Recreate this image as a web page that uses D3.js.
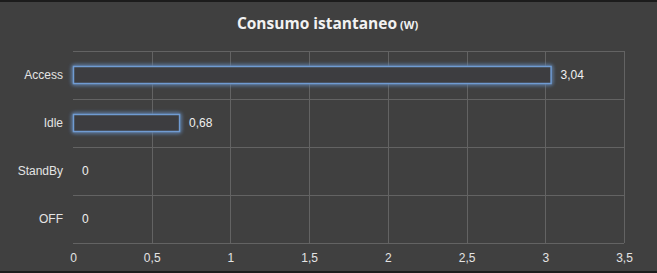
<!DOCTYPE html>
<html>
<head>
<meta charset="utf-8">
<script src="https://cdn.jsdelivr.net/npm/d3@7"></script>
<style>
  html, body { margin: 0; padding: 0; background: #404040; }
  svg { display: block; }
</style>
</head>
<body>
<div id="chart"></div>
<script>
// data
const categories = ["Access", "Idle", "StandBy", "OFF"];
const values = [3.04, 0.68, 0, 0];
const xTicks = [0, 0.5, 1, 1.5, 2, 2.5, 3, 3.5];
const titleMain = "Consumo istantaneo";
const titleUnit = "(W)";

const width = 657, height = 273;
const margin = {top: 51, right: 33, bottom: 30, left: 73};
const innerW = width - margin.left - margin.right;
const innerH = height - margin.top - margin.bottom;

const itFormat = d3.formatLocale({decimal: ",", thousands: ".", grouping: [3], currency: ["€", ""]});
const fmt = v => itFormat.format("~g")(v);
const labelFont = "'Liberation Sans', Arial, sans-serif";

const svg = d3.select("#chart").append("svg")
    .attr("width", width)
    .attr("height", height);

// glow filter for bars
const defs = svg.append("defs");
const glow = defs.append("filter").attr("id", "glow")
    .attr("x", "-10%").attr("y", "-80%").attr("width", "120%").attr("height", "260%");
glow.append("feGaussianBlur").attr("in", "SourceGraphic").attr("stdDeviation", 2).attr("result", "blur");
const merge = glow.append("feMerge");
merge.append("feMergeNode").attr("in", "blur");
merge.append("feMergeNode").attr("in", "blur");
merge.append("feMergeNode").attr("in", "SourceGraphic");

// background + borders
svg.append("rect").attr("width", width).attr("height", height).attr("fill", "#404040");
svg.append("rect").attr("x", 0).attr("y", 0).attr("width", width).attr("height", 2).attr("fill", "#1c1c1c");
svg.append("rect").attr("x", 0).attr("y", height - 2).attr("width", width).attr("height", 2).attr("fill", "#1c1c1c");

// title
const title = svg.append("text")
    .attr("x", width / 2 - 1)
    .attr("y", 29)
    .attr("text-anchor", "middle")
    .attr("fill", "#f2f2f2")
    .attr("font-family", "'Open Sans', sans-serif");
title.append("tspan")
    .attr("font-size", "15.5px")
    .attr("font-weight", "bold")
    .text(titleMain);
title.append("tspan")
    .attr("font-size", "11px")
    .attr("font-weight", "bold")
    .attr("dx", 3)
    .text(titleUnit);

const g = svg.append("g")
    .attr("transform", `translate(${margin.left},${margin.top})`);

const xScale = d3.scaleLinear().domain([0, 3.5]).range([0, innerW]);
const yScale = d3.scaleBand().domain(categories).range([0, innerH]).paddingInner(0.64).paddingOuter(0.32);
const bandStep = yScale.step();

// grid
const gridColor = "#636363";
g.selectAll(".vGrid")
    .data(xTicks.filter(t => t > 0))
    .join("line")
    .attr("class", "vGrid")
    .attr("x1", d => Math.round(xScale(d)) + 0.5)
    .attr("x2", d => Math.round(xScale(d)) + 0.5)
    .attr("y1", 0)
    .attr("y2", innerH)
    .attr("stroke", gridColor);

const hLines = d3.range(categories.length + 1).map(i => i * bandStep);
g.selectAll(".hGrid")
    .data(hLines)
    .join("line")
    .attr("class", "hGrid")
    .attr("x1", 0)
    .attr("x2", innerW)
    .attr("y1", d => Math.round(d) + 0.5)
    .attr("y2", d => Math.round(d) + 0.5)
    .attr("stroke", gridColor);

// x axis
const xAxis = g.append("g")
    .attr("transform", `translate(0,${innerH})`)
    .call(d3.axisBottom(xScale).tickValues(xTicks).tickFormat(fmt).tickSize(0).tickPadding(10));
xAxis.select(".domain").remove();
xAxis.selectAll("text")
    .attr("fill", "#e4e4e4")
    .attr("font-family", labelFont)
    .attr("font-size", "12px");

// y axis
const yAxis = g.append("g")
    .call(d3.axisLeft(yScale).tickSize(0).tickPadding(10));
yAxis.select(".domain").remove();
yAxis.selectAll("text")
    .attr("fill", "#e4e4e4")
    .attr("font-family", labelFont)
    .attr("font-size", "12px");

// bars
g.selectAll(".bar")
    .data(values.map((v, i) => ({cat: categories[i], value: v})).filter(d => d.value > 0))
    .join("rect")
    .attr("class", "bar")
    .attr("x", 0.5)
    .attr("y", d => Math.round(yScale(d.cat)) + 0.5)
    .attr("width", d => xScale(d.value) - 1)
    .attr("height", Math.round(yScale.bandwidth()))
    .attr("fill", "#3d3d3f")
    .attr("stroke", "#6f9bd2")
    .attr("stroke-width", 1.5)
    .attr("filter", "url(#glow)");

// value labels
g.selectAll(".valLabel")
    .data(values.map((v, i) => ({cat: categories[i], value: v})))
    .join("text")
    .attr("class", "valLabel")
    .attr("x", d => xScale(d.value) + 9)
    .attr("y", d => yScale(d.cat) + yScale.bandwidth() / 2)
    .attr("dy", "0.35em")
    .attr("fill", "#f0f0f0")
    .attr("font-family", labelFont)
    .attr("font-size", "12px")
    .text(d => fmt(d.value));
</script>
</body>
</html>
